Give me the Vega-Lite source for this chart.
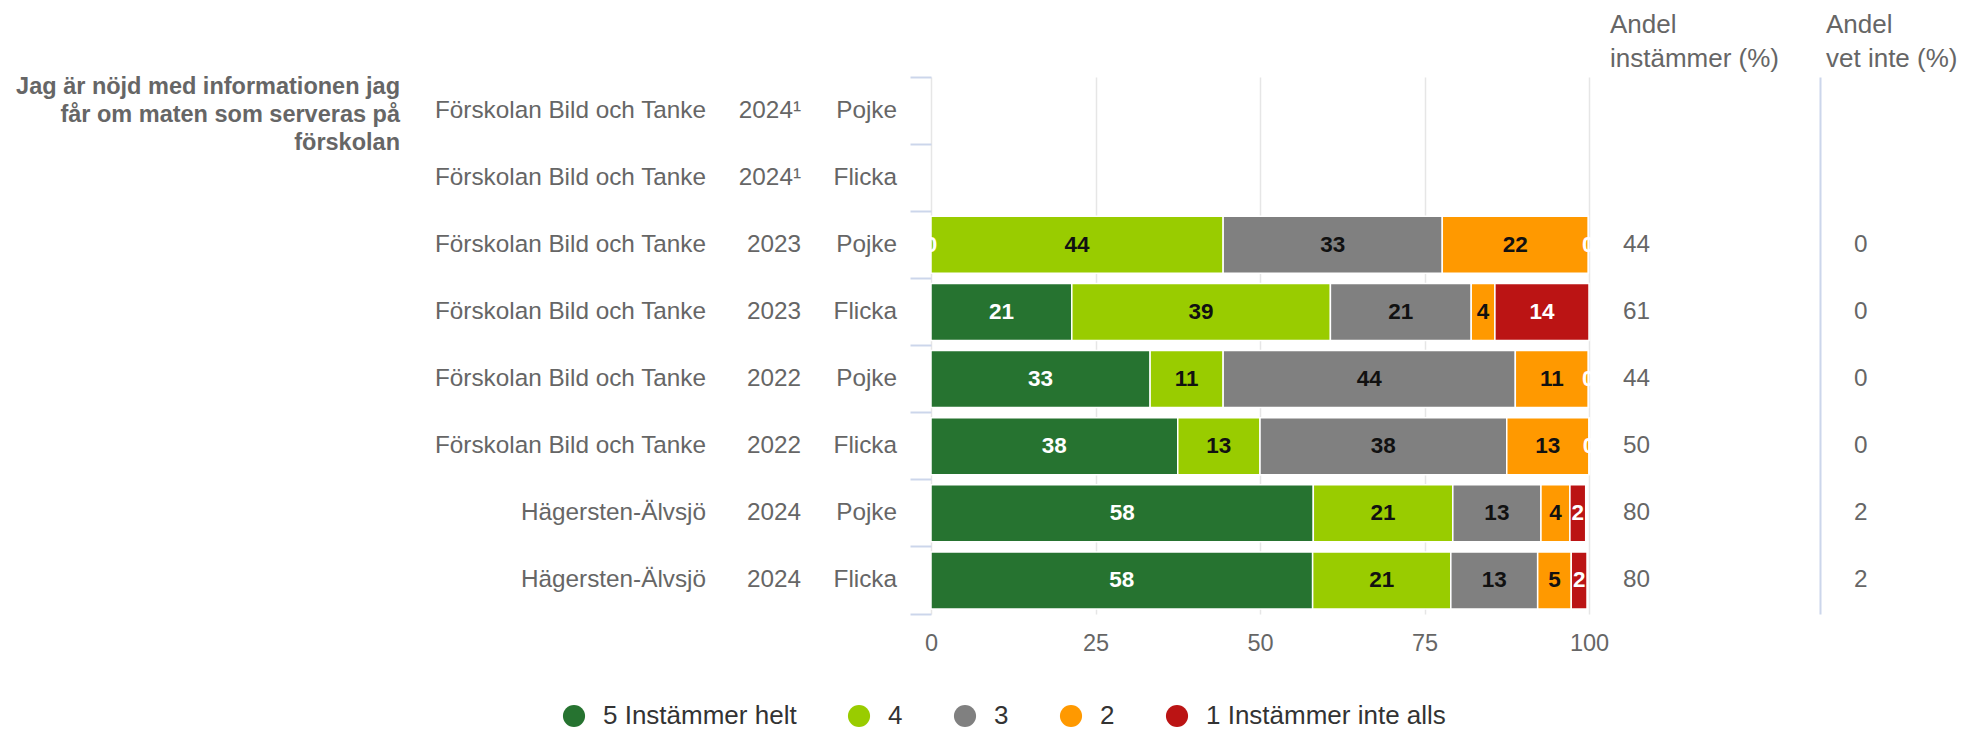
{
  "$schema": "https://vega.github.io/schema/vega-lite/v6.json",
  "padding": {"left": 0, "top": 12, "right": 0, "bottom": 0},
  "background": "white",
  "config": {
    "font": "Liberation Sans",
    "view": {"stroke": null},
    "text": {"font": "Liberation Sans"}
  },
  "bounds": "flush",
  "spacing": 34,
  "datasets": {
    "title": [
      {"id": "r1", "title": "Jag är nöjd med informationen jag\nfår om maten som serveras på\nförskolan"}
    ],
    "rows": [
      {"id": "r1", "school": "Förskolan Bild och Tanke", "year": "2024¹", "gender": "Pojke"},
      {"id": "r2", "school": "Förskolan Bild och Tanke", "year": "2024¹", "gender": "Flicka"},
      {"id": "r3", "school": "Förskolan Bild och Tanke", "year": "2023", "gender": "Pojke"},
      {"id": "r4", "school": "Förskolan Bild och Tanke", "year": "2023", "gender": "Flicka"},
      {"id": "r5", "school": "Förskolan Bild och Tanke", "year": "2022", "gender": "Pojke"},
      {"id": "r6", "school": "Förskolan Bild och Tanke", "year": "2022", "gender": "Flicka"},
      {"id": "r7", "school": "Hägersten-Älvsjö", "year": "2024", "gender": "Pojke"},
      {"id": "r8", "school": "Hägersten-Älvsjö", "year": "2024", "gender": "Flicka"}
    ],
    "andel": [
      {"id": "r3", "instammer": 44, "vetinte": 0},
      {"id": "r4", "instammer": 61, "vetinte": 0},
      {"id": "r5", "instammer": 44, "vetinte": 0},
      {"id": "r6", "instammer": 50, "vetinte": 0},
      {"id": "r7", "instammer": 80, "vetinte": 2},
      {"id": "r8", "instammer": 80, "vetinte": 2}
    ],
    "bars": [
      {"id": "r3", "cat": "5 Instämmer helt", "k": 1, "value": 0},
      {"id": "r3", "cat": "4", "k": 2, "value": 44.4},
      {"id": "r3", "cat": "3", "k": 3, "value": 33.3},
      {"id": "r3", "cat": "2", "k": 4, "value": 22.2},
      {"id": "r3", "cat": "1 Instämmer inte alls", "k": 5, "value": 0},
      {"id": "r4", "cat": "5 Instämmer helt", "k": 1, "value": 21.4},
      {"id": "r4", "cat": "4", "k": 2, "value": 39.3},
      {"id": "r4", "cat": "3", "k": 3, "value": 21.4},
      {"id": "r4", "cat": "2", "k": 4, "value": 3.6},
      {"id": "r4", "cat": "1 Instämmer inte alls", "k": 5, "value": 14.3},
      {"id": "r5", "cat": "5 Instämmer helt", "k": 1, "value": 33.3},
      {"id": "r5", "cat": "4", "k": 2, "value": 11.1},
      {"id": "r5", "cat": "3", "k": 3, "value": 44.4},
      {"id": "r5", "cat": "2", "k": 4, "value": 11.1},
      {"id": "r5", "cat": "1 Instämmer inte alls", "k": 5, "value": 0},
      {"id": "r6", "cat": "5 Instämmer helt", "k": 1, "value": 37.5},
      {"id": "r6", "cat": "4", "k": 2, "value": 12.5},
      {"id": "r6", "cat": "3", "k": 3, "value": 37.5},
      {"id": "r6", "cat": "2", "k": 4, "value": 12.5},
      {"id": "r6", "cat": "1 Instämmer inte alls", "k": 5, "value": 0},
      {"id": "r7", "cat": "5 Instämmer helt", "k": 1, "value": 58.1},
      {"id": "r7", "cat": "4", "k": 2, "value": 21.2},
      {"id": "r7", "cat": "3", "k": 3, "value": 13.4},
      {"id": "r7", "cat": "2", "k": 4, "value": 4.4},
      {"id": "r7", "cat": "1 Instämmer inte alls", "k": 5, "value": 2.4},
      {"id": "r8", "cat": "5 Instämmer helt", "k": 1, "value": 58.0},
      {"id": "r8", "cat": "4", "k": 2, "value": 21.0},
      {"id": "r8", "cat": "3", "k": 3, "value": 13.2},
      {"id": "r8", "cat": "2", "k": 4, "value": 5.1},
      {"id": "r8", "cat": "1 Instämmer inte alls", "k": 5, "value": 2.4}
    ]
  },
  "resolve": {"scale": {"color": "shared"}, "legend": {"color": "shared"}},
  "hconcat": [
    {
      "width": 400,
      "height": 537,
      "data": {"name": "title"},
      "mark": {"type": "text", "align": "right", "baseline": "middle", "fontSize": 23.5, "fontWeight": "bold", "color": "#666666", "lineBreak": "\n", "lineHeight": 28, "dy": -24},
      "encoding": {
        "x": {"value": "width"},
        "y": {"field": "id", "type": "nominal", "axis": null, "scale": {"domain": ["r1","r2","r3","r4","r5","r6","r7","r8"], "paddingInner": 0, "paddingOuter": 0}},
        "text": {"field": "title"}
      }
    },
    {
      "width": 272,
      "height": 537,
      "data": {"name": "rows"},
      "mark": {"type": "text", "align": "right", "baseline": "middle", "fontSize": 24.3, "color": "#666666"},
      "encoding": {
        "x": {"value": "width"},
        "y": {"field": "id", "type": "nominal", "axis": null, "scale": {"domain": ["r1","r2","r3","r4","r5","r6","r7","r8"], "paddingInner": 0, "paddingOuter": 0}},
        "text": {"field": "school"}
      }
    },
    {
      "width": 61,
      "height": 537,
      "data": {"name": "rows"},
      "mark": {"type": "text", "align": "right", "baseline": "middle", "fontSize": 24.3, "color": "#666666"},
      "encoding": {
        "x": {"value": "width"},
        "y": {"field": "id", "type": "nominal", "axis": null, "scale": {"domain": ["r1","r2","r3","r4","r5","r6","r7","r8"], "paddingInner": 0, "paddingOuter": 0}},
        "text": {"field": "year"}
      }
    },
    {
      "width": 62,
      "height": 537,
      "data": {"name": "rows"},
      "mark": {"type": "text", "align": "right", "baseline": "middle", "fontSize": 24.3, "color": "#666666"},
      "encoding": {
        "x": {"value": "width"},
        "y": {"field": "id", "type": "nominal", "axis": null, "scale": {"domain": ["r1","r2","r3","r4","r5","r6","r7","r8"], "paddingInner": 0, "paddingOuter": 0}},
        "text": {"field": "gender"}
      }
    },
    {
      "width": 658,
      "height": 537,
      "data": {"name": "bars"},
      "encoding": {
        "y": {"field": "id", "type": "nominal", "scale": {"domain": ["r1","r2","r3","r4","r5","r6","r7","r8"], "paddingInner": 0, "paddingOuter": 0},
          "axis": {"orient": "left", "domain": false, "labels": false, "ticks": true, "tickSize": 21, "tickColor": "#ccd6eb", "tickWidth": 2, "bandPosition": 1, "tickExtra": true, "title": null, "grid": false}},
        "order": {"field": "k", "type": "quantitative"}
      },
      "layer": [
        {
          "mark": {"type": "bar", "height": {"band": 0.85}, "stroke": "white", "strokeWidth": 1.5},
          "encoding": {
            "x": {"field": "value", "type": "quantitative", "stack": "zero",
              "scale": {"domain": [0, 100], "nice": false},
              "axis": {"values": [0, 25, 50, 75, 100], "grid": true, "gridColor": "#e6e6e6", "gridWidth": 1.5, "domain": false, "ticks": false, "labelFlush": false, "labelFontSize": 23.5, "labelColor": "#666666", "labelPadding": 17, "title": null, "labelFont": "Liberation Sans"}},
            "color": {"field": "cat", "type": "nominal",
              "scale": {"domain": ["5 Instämmer helt", "4", "3", "2", "1 Instämmer inte alls"], "range": ["#267330", "#99cc00", "#808080", "#ff9900", "#bb1414"]},
              "legend": {"orient": "none", "legendX": 561, "legendY": 626, "direction": "horizontal", "title": null, "symbolType": "circle", "symbolSize": 490, "symbolStrokeWidth": 0, "labelFontSize": 26, "labelColor": "#333333", "labelFont": "Liberation Sans", "labelOffset": 16, "columnPadding": 49, "labelLimit": 400, "padding": 0, "columns": 5}}
          }
        },
        {
          "mark": {"type": "text", "fontSize": 22.5, "fontWeight": "bold", "baseline": "middle", "align": "center"},
          "encoding": {
            "x": {"field": "value", "type": "quantitative", "stack": "zero", "bandPosition": 0.5},
            "text": {"field": "value", "type": "quantitative", "format": ".0f"},
            "color": {"condition": {"test": "datum.cat === '4' || datum.cat === '3' || datum.cat === '2'", "value": "#111111"}, "value": "#ffffff"}
          }
        }
      ]
    },
    {
      "width": 197,
      "height": 537,
      "data": {"name": "andel"},
      "title": {"text": ["Andel", "instämmer (%)"], "anchor": "start", "frame": "group", "fontSize": 26, "fontWeight": "normal", "color": "#666666", "font": "Liberation Sans", "offset": 5, "dx": -13, "lineHeight": 34},
      "mark": {"type": "text", "align": "left", "baseline": "middle", "fontSize": 24.3, "color": "#666666"},
      "encoding": {
        "x": {"value": 0},
        "y": {"field": "id", "type": "nominal", "scale": {"domain": ["r1","r2","r3","r4","r5","r6","r7","r8"], "paddingInner": 0, "paddingOuter": 0},
          "axis": {"orient": "right", "domain": true, "domainColor": "#ccd6eb", "domainWidth": 2, "ticks": false, "labels": false, "title": null, "grid": false}},
        "text": {"field": "instammer"}
      }
    },
    {
      "width": 100,
      "height": 537,
      "data": {"name": "andel"},
      "title": {"text": ["Andel", "vet inte (%)"], "anchor": "start", "frame": "group", "fontSize": 26, "fontWeight": "normal", "color": "#666666", "font": "Liberation Sans", "offset": 5, "dx": -28, "lineHeight": 34},
      "mark": {"type": "text", "align": "left", "baseline": "middle", "fontSize": 24.3, "color": "#666666"},
      "encoding": {
        "x": {"value": 0},
        "y": {"field": "id", "type": "nominal", "axis": null, "scale": {"domain": ["r1","r2","r3","r4","r5","r6","r7","r8"], "paddingInner": 0, "paddingOuter": 0}},
        "text": {"field": "vetinte"}
      }
    }
  ]
}
